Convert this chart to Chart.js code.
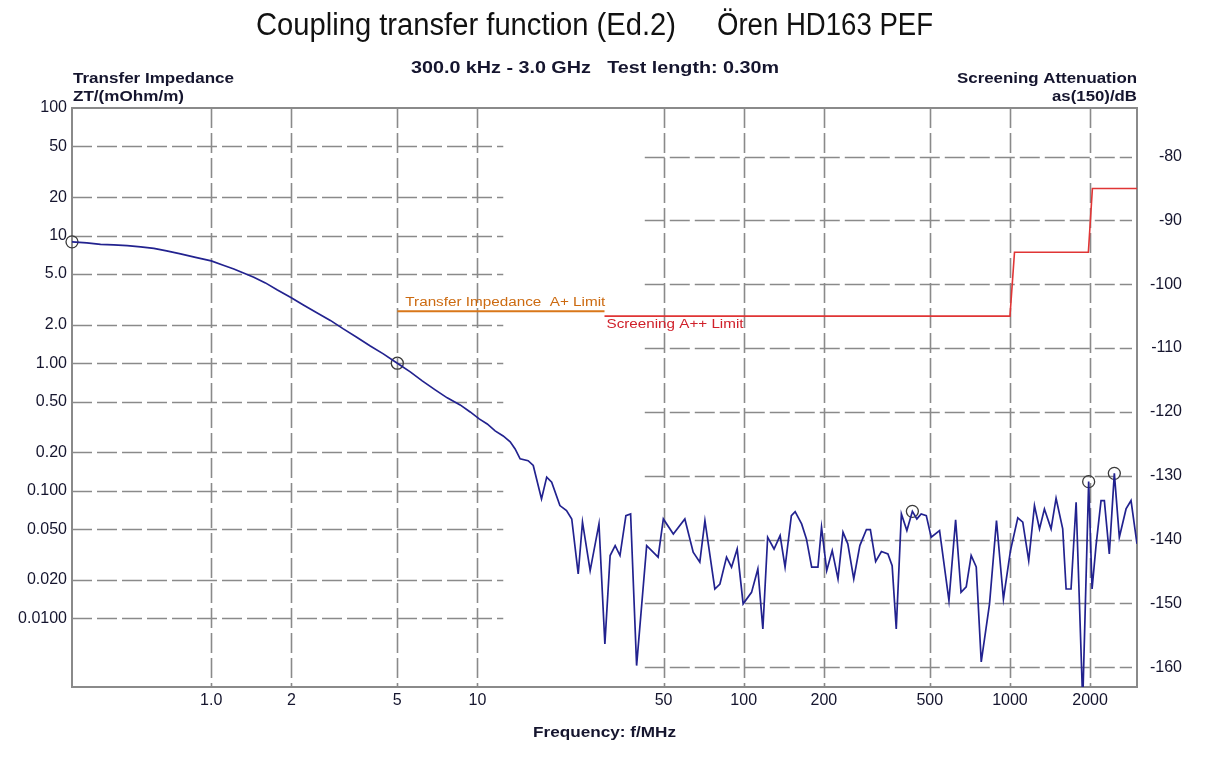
<!DOCTYPE html>
<html>
<head>
<meta charset="utf-8">
<title>Coupling transfer function</title>
<script src="https://cdn.jsdelivr.net/npm/chart.js@4.4.1/dist/chart.umd.min.js"></script>
<style>
  html, body { margin: 0; padding: 0; background: #fff; }
  #wrap { width: 1226px; height: 762px; position: relative; }
</style>
</head>
<body>
<div id="wrap"><canvas id="ctf"></canvas></div>
<script>
  "use strict";

  // measured curve: frequency (MHz) and transfer impedance ZT (mOhm/m)
  const freqMHz = [
    0.30, 0.341, 0.384, 0.430, 0.484, 0.543, 0.609, 0.680, 0.767, 0.873,
    1.00, 1.103, 1.216, 1.322, 1.445, 1.598, 1.773, 1.984, 2.219, 2.483,
    2.802, 3.135, 3.508, 3.958, 4.430, 5.00, 5.592, 6.203, 6.939, 7.697,
    8.61, 9.39, 10.15, 10.88, 11.65, 12.49, 13.27, 13.85, 14.46,
    15.5, 16.2, 17.4, 18.2, 19.0, 20.4, 21.6, 22.6, 23.9, 24.8,
    26.5, 28.6, 30.1, 31.5, 32.9, 34.3, 36.1, 37.6, 39.6, 43.2,
    47.7, 49.9, 54.4, 60.1, 64.6, 68.4, 71.5, 77.9, 81.4, 86.2,
    90.0, 94.5, 99.5, 107, 113, 118, 123, 130, 137, 143,
    151, 156, 165, 172, 180, 190, 196, 205, 215, 226,
    236, 246, 259, 273, 289, 299, 313, 329, 348, 361,
    374, 391, 410, 430, 447, 464, 485, 506, 544, 590,
    625, 655, 685, 715, 747, 780, 838, 890, 945, 1004,
    1070, 1117, 1176, 1236, 1291, 1347, 1427, 1490, 1578, 1625,
    1696, 1772, 1876, 1975, 2034, 2105, 2198, 2262, 2361, 2466,
    2575, 2729, 2849, 3000
  ];
  const ztValues = [
    8.93, 8.77, 8.53, 8.46, 8.35, 8.15, 7.94, 7.59, 7.19, 6.75,
    6.34, 5.89, 5.48, 5.10, 4.72, 4.26, 3.75, 3.29, 2.86, 2.50,
    2.165, 1.857, 1.607, 1.366, 1.183, 1.00, 0.855, 0.727, 0.618, 0.535,
    0.471, 0.415, 0.366, 0.334, 0.295, 0.269, 0.242, 0.213, 0.178,
    0.172, 0.158, 0.0864, 0.128, 0.117, 0.0766, 0.0700, 0.0602, 0.0223, 0.0568,
    0.0237, 0.0550, 0.00631, 0.0311, 0.0372, 0.0311, 0.0639, 0.0659, 0.00427, 0.0372,
    0.0302, 0.0602, 0.0459, 0.0602, 0.0330, 0.0276, 0.0584, 0.0170, 0.0186, 0.0302,
    0.0252, 0.0350, 0.0130, 0.0160, 0.0244, 0.00827, 0.0433, 0.0350, 0.0446, 0.0252,
    0.0639, 0.0687, 0.0550, 0.0420, 0.0252, 0.0252, 0.0519, 0.0237, 0.0340, 0.0204,
    0.0474, 0.0384, 0.0204, 0.0372, 0.0497, 0.0497, 0.0279, 0.0334, 0.0320, 0.0259,
    0.00827, 0.0659, 0.0488, 0.0690, 0.0602, 0.0659, 0.0639, 0.0433, 0.0488, 0.0138,
    0.0592, 0.0160, 0.0177, 0.0311, 0.0253, 0.00456, 0.0130, 0.0584, 0.0142, 0.0338,
    0.0613, 0.0568, 0.0284, 0.0766, 0.0503, 0.0721, 0.0503, 0.0875, 0.0503, 0.0170,
    0.0170, 0.0814, 0.0022, 0.118, 0.0170, 0.0372, 0.0838, 0.0838, 0.0320, 0.137,
    0.0433, 0.0721, 0.0838, 0.0384
  ];

  // circled marker points
  const markerFreq = [0.30, 5.0, 430, 1975, 2466];
  const markerZt = [8.93, 1.00, 0.0690, 0.118, 0.137];

  // transfer impedance A+ limit (left axis)
  const ztLimitFreq = [5, 30];
  const ztLimitVal = [2.55, 2.55];

  // screening A++ limit (right axis, dB)
  const asLimitFreq = [30, 1000, 1040, 1970, 2040, 3000];
  const asLimitVal = [-105, -105, -95, -95, -85, -85];

  // ticks
  const freqTicks = [1, 2, 5, 10, 50, 100, 200, 500, 1000, 2000];
  const freqTickLabels = ["1.0", "2", "5", "10", "50", "100", "200", "500", "1000", "2000"];
  const ztTicks = [100, 50, 20, 10, 5, 2, 1, 0.5, 0.2, 0.1, 0.05, 0.02, 0.01];
  const ztTickLabels = ["100", "50", "20", "10", "5.0", "2.0", "1.00", "0.50", "0.20", "0.100", "0.050", "0.020", "0.0100"];
  const asTicks = [-80, -90, -100, -110, -120, -130, -140, -150, -160];

  const gridColor = "#8a8a8a";
  const textColor = "#15152e";

  const toXY = (xs, ys) => xs.map((x, i) => ({ x: x, y: ys[i] }));

  // draw a string stretched/squeezed to a given width
  function fitText(ctx, text, x, y, width, font, color, align) {
    ctx.save();
    ctx.font = font;
    ctx.fillStyle = color;
    ctx.textBaseline = "middle";
    ctx.textAlign = "left";
    const w = ctx.measureText(text).width;
    let x0 = x;
    if (align === "right") x0 = x - width;
    if (align === "center") x0 = x - width / 2;
    ctx.translate(x0, y);
    ctx.scale(width / w, 1);
    ctx.fillText(text, 0, 0);
    ctx.restore();
  }

  function seg(ctx, x1, y1, x2, y2) {
    ctx.beginPath();
    ctx.moveTo(x1, y1);
    ctx.lineTo(x2, y2);
    ctx.stroke();
  }

  // split grid: left half follows ZT axis, right half follows dB axis
  const gridPlugin = {
    id: "splitGrid",
    beforeDatasetsDraw(chart) {
      const { ctx, chartArea: a, scales } = chart;
      const xs = scales.x, yz = scales.yZ, ya = scales.yAs;
      ctx.save();
      ctx.strokeStyle = gridColor;
      ctx.lineWidth = 1.6;
      ctx.setLineDash([20, 5]);

      freqTicks.forEach(v => {
        const px = Math.round(xs.getPixelForValue(v)) + 0.5;
        seg(ctx, px, a.top, px, a.bottom);
      });

      const leftEnd = xs.getPixelForValue(12.5);
      ztTicks.forEach(v => {
        if (v >= 100) return;
        const py = Math.round(yz.getPixelForValue(v)) + 0.5;
        seg(ctx, a.left, py, leftEnd, py);
      });

      const rightStart = xs.getPixelForValue(42.5);
      asTicks.forEach(v => {
        const py = Math.round(ya.getPixelForValue(v)) + 0.5;
        seg(ctx, rightStart, py, a.right - 5, py);
      });

      ctx.setLineDash([]);
      ctx.lineWidth = 2;
      ctx.strokeRect(a.left, a.top, a.width, a.height);
      ctx.restore();
    },
    afterDatasetsDraw(chart) {
      const { ctx, scales } = chart;
      const xs = scales.x, yz = scales.yZ, ya = scales.yAs;
      // limit labels
      fitText(ctx, "Transfer Impedance  A+ Limit", xs.getPixelForValue(ztLimitFreq[0]) + 8,
        yz.getPixelForValue(ztLimitVal[0]) - 9, 200, "12px 'Liberation Sans', Arial", "#cc6a10", "left");
      fitText(ctx, "Screening A++ Limit", xs.getPixelForValue(asLimitFreq[0]) + 2,
        ya.getPixelForValue(asLimitVal[0]) + 9, 137, "12px 'Liberation Sans', Arial", "#d0202a", "left");
    },
    afterDraw(chart) {
      const ctx = chart.ctx;
      const sans = "'Liberation Sans', Arial";
      fitText(ctx, "Coupling transfer function (Ed.2)", 256, 26, 420, "31px " + sans, "#111", "left");
      fitText(ctx, "Ören HD163 PEF", 717, 26, 216, "31px " + sans, "#111", "left");
      fitText(ctx, "300.0 kHz - 3.0 GHz   Test length: 0.30m", 411, 69, 368, "bold 16px " + sans, textColor, "left");
      fitText(ctx, "Transfer Impedance", 73, 79, 161, "bold 15px " + sans, textColor, "left");
      fitText(ctx, "ZT/(mOhm/m)", 73, 97, 111, "bold 15px " + sans, textColor, "left");
      fitText(ctx, "Screening Attenuation", 1137, 79, 180, "bold 15px " + sans, textColor, "right");
      fitText(ctx, "as(150)/dB", 1137, 97, 85, "bold 15px " + sans, textColor, "right");
      fitText(ctx, "Frequency: f/MHz", 533, 733, 143, "bold 15px " + sans, textColor, "left");
    }
  };

  const tickFont = { family: "'Liberation Sans', Arial", size: 16 };

  const chart = new Chart(document.getElementById("ctf"), {
    type: "line",
    data: {
      datasets: [
        {
          label: "ZT",
          data: toXY(freqMHz, ztValues),
          yAxisID: "yZ",
          borderColor: "#22228f",
          borderWidth: 1.7,
          pointRadius: 0,
          tension: 0,
        },
        {
          label: "markers",
          data: toXY(markerFreq, markerZt),
          yAxisID: "yZ",
          showLine: false,
          pointRadius: 6,
          pointBorderWidth: 1.3,
          pointBorderColor: "#3a3a3a",
          pointBackgroundColor: "rgba(0,0,0,0)",
          clip: false,
        },
        {
          label: "Transfer Impedance A+ Limit",
          data: toXY(ztLimitFreq, ztLimitVal),
          yAxisID: "yZ",
          borderColor: "#d9771a",
          borderWidth: 2,
          pointRadius: 0,
        },
        {
          label: "Screening A++ Limit",
          data: toXY(asLimitFreq, asLimitVal),
          yAxisID: "yAs",
          borderColor: "#e03535",
          borderWidth: 1.6,
          pointRadius: 0,
        },
      ],
    },
    options: {
      responsive: true,
      maintainAspectRatio: false,
      animation: false,
      devicePixelRatio: 1,
      layout: { padding: { top: 108, left: 0, right: 44, bottom: 0 } },
      plugins: {
        legend: { display: false },
        tooltip: { enabled: false },
        title: { display: false },
      },
      scales: {
        x: {
          type: "logarithmic",
          min: 0.3,
          max: 3000,
          grid: { display: false, drawTicks: false },
          border: { display: false },
          afterBuildTicks: s => { s.ticks = freqTicks.map(v => ({ value: v })); },
          afterFit: s => { s.height = 75; },
          ticks: {
            autoSkip: false,
            maxRotation: 0,
            padding: 4,
            color: textColor,
            font: tickFont,
            callback: v => freqTickLabels[freqTicks.indexOf(v)],
          },
        },
        yZ: {
          type: "logarithmic",
          position: "left",
          min: 0.0029,
          max: 100,
          grid: { display: false, drawTicks: false },
          border: { display: false },
          afterBuildTicks: s => { s.ticks = ztTicks.map(v => ({ value: v })); },
          afterFit: s => { s.width = 72; },
          ticks: {
            autoSkip: false,
            padding: 5,
            color: textColor,
            font: tickFont,
            callback: v => ztTickLabels[ztTicks.indexOf(v)],
          },
        },
        yAs: {
          type: "linear",
          position: "right",
          min: -163.1,
          max: -72.4,
          grid: { display: false, drawTicks: false },
          border: { display: false },
          afterBuildTicks: s => { s.ticks = asTicks.map(v => ({ value: v })); },
          afterFit: s => { s.width = 45; },
          ticks: {
            autoSkip: false,
            padding: 8,
            crossAlign: "far",
            color: textColor,
            font: tickFont,
          },
        },
      },
    },
    plugins: [gridPlugin],
  });
</script>
</body>
</html>
